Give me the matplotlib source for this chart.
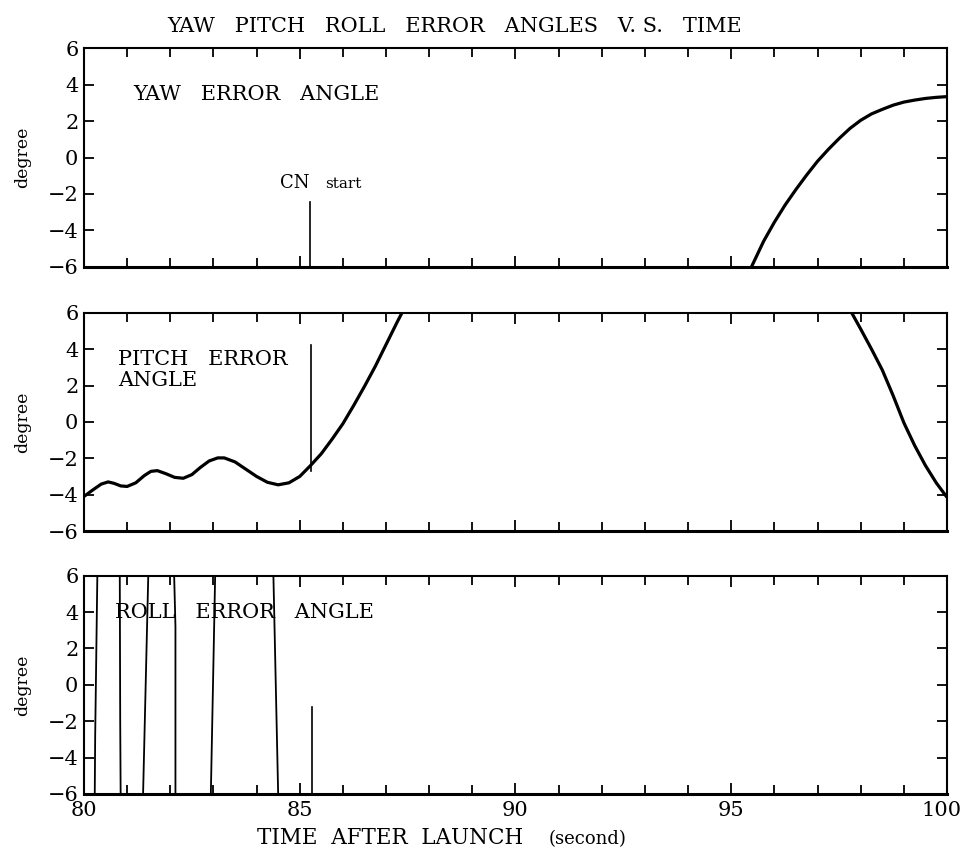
import matplotlib
matplotlib.use("Agg")
import matplotlib.pyplot as plt
import numpy as np
from matplotlib.ticker import MultipleLocator
from matplotlib.transforms import ScaledTranslation

plt.rcParams["font.family"] = ["DejaVu Serif"]
plt.rcParams["axes.unicode_minus"] = True

# time after launch (s) and error angles (degree)
yaw_t = [95.47, 95.5, 95.75, 96.0, 96.25, 96.5, 96.75, 97.0, 97.25, 97.5, 97.75,
         98.0, 98.25, 98.5, 98.75, 99.0, 99.25, 99.5, 99.75, 100.0]
yaw_v = [-6.0, -5.85, -4.6, -3.55, -2.6, -1.75, -0.95, -0.2, 0.45, 1.05, 1.6,
         2.05, 2.4, 2.65, 2.88, 3.05, 3.16, 3.25, 3.31, 3.35]

pitch_t = [80.0, 80.2, 80.4, 80.56, 80.7, 80.85, 81.0, 81.2, 81.4, 81.55, 81.7,
           81.9, 82.1, 82.3, 82.5, 82.7, 82.9, 83.1, 83.25, 83.5, 83.75, 84.0,
           84.25, 84.5, 84.75, 85.0, 85.25, 85.5, 85.75, 86.0, 86.25, 86.5,
           86.75, 87.0, 87.25, 87.37,
           np.nan,
           97.79, 98.0, 98.25, 98.5, 98.75, 99.0, 99.25, 99.5, 99.75, 100.0]
pitch_v = [-4.1, -3.75, -3.42, -3.3, -3.38, -3.52, -3.55, -3.35, -2.95, -2.72, -2.68,
           -2.85, -3.05, -3.1, -2.9, -2.5, -2.15, -1.98, -1.98, -2.2, -2.6, -3.0,
           -3.32, -3.46, -3.35, -3.0, -2.4, -1.75, -0.95, -0.1, 0.9, 1.95,
           3.05, 4.25, 5.45, 6.0,
           np.nan,
           6.0, 5.1, 4.0, 2.85, 1.45, -0.05, -1.3, -2.4, -3.35, -4.15]

# roll wraps through the +-6 window; each pass is separated by a gap
roll_t = [80.25, 80.26, 80.31, np.nan,
          80.83, 80.84, 80.85, np.nan,
          81.37, 81.49, np.nan,
          82.09, 82.12, 82.12, np.nan,
          82.94, 83.04, np.nan,
          84.39, 84.50]
roll_v = [-6.0, -2.8, 6.0, np.nan,
          6.0, -2.0, -6.0, np.nan,
          -6.0, 6.0, np.nan,
          6.0, 3.2, -6.0, np.nan,
          -6.0, 6.0, np.nan,
          6.0, -6.0]

# CN start marker: time and the extent of the vertical tick in each panel
cn_t = [85.24, 85.26, 85.29]
cn_lo = [-6.0, -2.7, -6.0]
cn_hi = [-2.42, 4.2, -1.2]

panel_names = ["YAW   ERROR   ANGLE", "PITCH   ERROR\nANGLE", "ROLL   ERROR   ANGLE"]
yticks = [-6, -4, -2, 0, 2, 4, 6]
xticks = [80, 85, 90, 95, 100]


def style_axis(ax, show_xlabels):
    ax.set_xlim(80, 100)
    ax.set_ylim(-6, 6)
    ax.set_yticks(yticks)
    ax.set_xticks(xticks)
    ax.xaxis.set_minor_locator(MultipleLocator(1))
    ax.tick_params(axis="both", which="both", direction="in",
                   top=True, right=True, width=1.3, colors="black")
    ax.tick_params(axis="x", which="major", length=8, pad=5,
                   labelsize=15, labelbottom=show_xlabels)
    ax.tick_params(axis="x", which="minor", length=6.5)
    ax.tick_params(axis="y", which="major", length=7, pad=4, labelsize=15)
    for side, sp in ax.spines.items():
        sp.set_linewidth(2.2 if side == "bottom" else 1.5)
    ax.set_ylabel("degree", fontsize=12.5, labelpad=12)


fig = plt.figure(figsize=(9.64, 8.51), dpi=100)
left, width, height = 0.0871, 0.8953, 0.2565
bottoms = [0.6866, 0.3760, 0.0670]
axes = [fig.add_axes([left, b, width, height]) for b in bottoms]

series = [(yaw_t, yaw_v), (pitch_t, pitch_v)]
for ax, (t, v) in zip(axes[:2], series):
    ax.plot(t, v, color="black", linewidth=2.3, solid_capstyle="butt")
axes[2].plot(roll_t, roll_v, color="black", linewidth=1.3)

for ax, t, lo, hi in zip(axes, cn_t, cn_lo, cn_hi):
    ax.plot([t, t], [lo, hi], color="black", linewidth=1.2)

for i, ax in enumerate(axes):
    style_axis(ax, show_xlabels=(i == 2))

# nudge the "100" label a few pixels left so it stays on the canvas
last = axes[2].xaxis.get_major_ticks()[-1].label1
last.set_transform(last.get_transform()
                   + ScaledTranslation(-4 / 72, 0, fig.dpi_scale_trans))

axes[0].text(81.14, 3.15, panel_names[0], fontsize=15, va="baseline")
axes[1].text(80.79, 1.98, panel_names[1], fontsize=15, va="baseline",
             linespacing=1.15)
axes[2].text(80.72, 3.65, panel_names[2], fontsize=15, va="baseline")

axes[0].text(84.54, -1.67, "CN", fontsize=13, va="baseline")
axes[0].text(85.58, -1.67, "start", fontsize=11, va="baseline")

fig.text(0.4715, 0.962, "YAW   PITCH   ROLL   ERROR   ANGLES   V. S.   TIME",
         fontsize=15, ha="center", va="baseline")
fig.text(0.267, 0.008, "TIME  AFTER  LAUNCH", fontsize=15.5, va="baseline")
fig.text(0.569, 0.008, "(second)", fontsize=13, va="baseline")

fig.savefig("out.png", dpi=100)
plt.close(fig)
